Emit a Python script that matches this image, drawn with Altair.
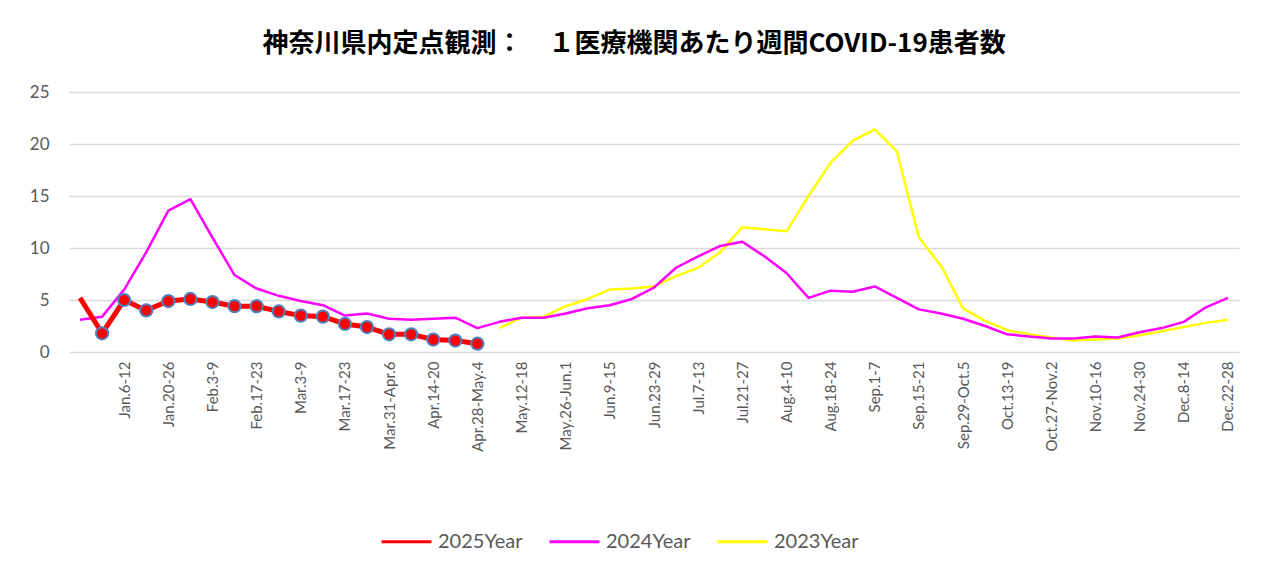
import altair as alt
import pandas as pd

week_labels = [
    "", "Dec.30-Jan.5", "Jan.6-12", "Jan.13-19", "Jan.20-26", "Jan.27-Feb.2",
    "Feb.3-9", "Feb.10-16", "Feb.17-23", "Feb.24-Mar.2", "Mar.3-9", "Mar.10-16",
    "Mar.17-23", "Mar.24-30", "Mar.31-Apr.6", "Apr.7-13", "Apr.14-20", "Apr.21-27",
    "Apr.28-May.4", "May.5-11", "May.12-18", "May.19-25", "May.26-Jun.1", "Jun.2-8",
    "Jun.9-15", "Jun.16-22", "Jun.23-29", "Jun.30-Jul.6", "Jul.7-13", "Jul.14-20",
    "Jul.21-27", "Jul.28-Aug.3", "Aug.4-10", "Aug.11-17", "Aug.18-24", "Aug.25-31",
    "Sep.1-7", "Sep.8-14", "Sep.15-21", "Sep.22-28", "Sep.29-Oct.5", "Oct.6-12",
    "Oct.13-19", "Oct.20-26", "Oct.27-Nov.2", "Nov.3-9", "Nov.10-16", "Nov.17-23",
    "Nov.24-30", "Dec.1-7", "Dec.8-14", "Dec.15-21", "Dec.22-28",
]

series_names = ["2025Year", "2024Year", "2023Year"]

y2025 = [5.2, 1.8, 5.0, 4.0, 4.9, 5.1, 4.8, 4.4, 4.4, 3.9, 3.5, 3.4, 2.7, 2.4,
         1.7, 1.7, 1.2, 1.1, 0.8]

y2024 = [3.1, 3.4, 6.0, 9.6, 13.6, 14.7, 11.0, 7.4, 6.1, 5.4, 4.9, 4.5, 3.5, 3.7,
         3.2, 3.1, 3.2, 3.3, 2.3, 2.9, 3.3, 3.3, 3.7, 4.2, 4.5, 5.1, 6.2, 8.1,
         9.2, 10.2, 10.6, 9.2, 7.6, 5.2, 5.9, 5.8, 6.3, 5.2, 4.1, 3.7, 3.2, 2.5,
         1.7, 1.5, 1.3, 1.3, 1.5, 1.4, 1.9, 2.3, 2.9, 4.3, 5.2]

y2023_start = 19
y2023 = [2.3, 3.3, 3.4, 4.4, 5.1, 6.0, 6.1, 6.3, 7.3, 8.1, 9.6, 12.0, 11.8, 11.6,
         15.0, 18.2, 20.3, 21.4, 19.3, 11.0, 8.3, 4.2, 3.0, 2.1, 1.7, 1.4, 1.1,
         1.2, 1.3, 1.6, 2.0, 2.4, 2.8, 3.1]

y_ticks = [0, 5, 10, 15, 20, 25]

rows = []
for i, v in enumerate(y2025):
    rows.append({"idx": i, "value": v, "series": "2025Year"})
for i, v in enumerate(y2024):
    rows.append({"idx": i, "value": v, "series": "2024Year"})
for i, v in enumerate(y2023):
    rows.append({"idx": y2023_start + i, "value": v, "series": "2023Year"})
df = pd.DataFrame(rows)

label_array = "[" + ",".join("'" + s + "'" for s in week_labels) + "]"

x_enc = alt.X(
    "idx:Q",
    scale=alt.Scale(domain=[-0.5, len(week_labels) - 0.5], nice=False, zero=False),
    axis=alt.Axis(
        values=list(range(2, len(week_labels), 2)),
        labelExpr=label_array + "[datum.value]",
        labelAngle=-90,
        labelFontSize=15,
        labelFont="Lato",
        labelColor="#595959",
        labelPadding=9,
        domain=False,
        ticks=False,
        grid=False,
        title=None,
        labelOverlap=False,
    ),
)
y_enc = alt.Y(
    "value:Q",
    scale=alt.Scale(domain=[0, 25], nice=False),
    axis=alt.Axis(
        values=y_ticks,
        labelFontSize=17,
        labelFont="Lato",
        labelColor="#595959",
        labelPadding=20,
        domain=False,
        ticks=False,
        gridColor="#d9d9d9",
        gridWidth=1.4,
        title=None,
    ),
)
color_enc = alt.Color(
    "series:N",
    scale=alt.Scale(domain=series_names, range=["#ff0000", "#ff00ff", "#ffff00"]),
    legend=alt.Legend(
        title=None,
        orient="none",
        direction="horizontal",
        legendX=311,
        legendY=423,
        symbolType="stroke",
        symbolSize=2500,
        symbolStrokeWidth=3,
        labelFontSize=20,
        labelFont="Lato",
        labelColor="#595959",
        labelOffset=5,
        columnPadding=20,
        padding=0,
    ),
)
line_widths = {"2025Year": 5, "2024Year": 2.5, "2023Year": 2.5}

base = alt.Chart(df)

lines = []
for name in ["2023Year", "2024Year", "2025Year"]:
    lines.append(
        base.transform_filter(alt.datum.series == name)
        .mark_line(strokeJoin="round", strokeWidth=line_widths[name])
        .encode(x=x_enc, y=y_enc, color=color_enc, order="idx:Q")
    )

points = (
    base.transform_filter((alt.datum.series == "2025Year") & (alt.datum.idx >= 1))
    .mark_circle(size=150, color="#ff0000", stroke="#4f81bd", strokeWidth=2, opacity=1)
    .encode(x=x_enc, y=y_enc)
)

chart = (
    alt.layer(*lines, points)
    .properties(
        width=1170,
        height=260,
        autosize="none",
        padding={"left": 61, "top": 84, "right": 19, "bottom": 215},
        view=alt.ViewBackground(stroke="white", strokeWidth=0),
        title=alt.TitleParams(
            "神奈川県内定点観測：　１医療機関あたり週間COVID-19患者数",
            font="Noto Sans CJK JP",
            fontSize=26,
            fontWeight="bold",
            color="#000000",
            anchor="middle",
            frame="bounds",
            offset=26,
        ),
    )
    .configure_view(stroke="white", strokeWidth=0)
    .configure_axisX(grid=False, domain=False, ticks=False)
    .configure_axisY(domain=False, ticks=False)
    .configure(background="white")
)

chart.save("out.html", embed_options={"renderer": "svg", "actions": False})
